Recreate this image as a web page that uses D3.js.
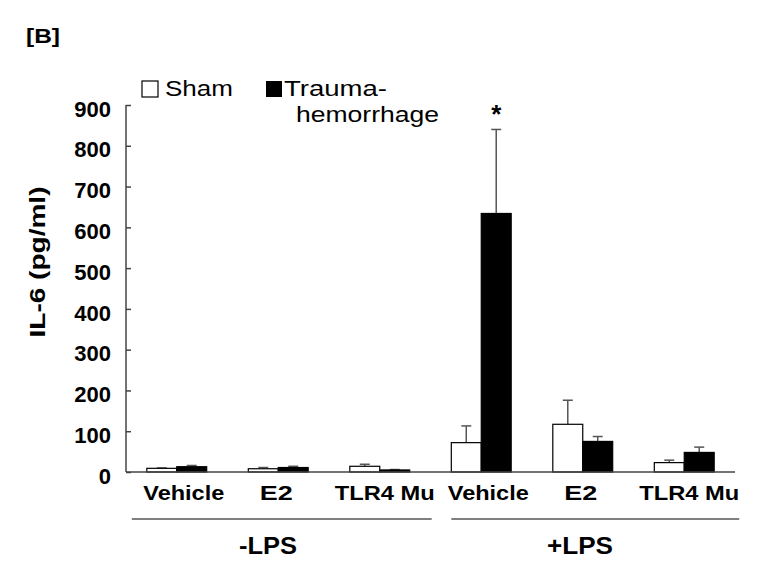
<!DOCTYPE html>
<html>
<head>
<meta charset="utf-8">
<script src="https://cdn.jsdelivr.net/npm/d3@7"></script>
<style>
  body { margin: 0; background: #fff; }
  text { font-family: "Liberation Sans", Arial, sans-serif; fill: #000; }
</style>
</head>
<body>
<div class="chart"></div>
<script>
// data
const treatments = ["Vehicle", "E2", "TLR4 Mu", "Vehicle", "E2", "TLR4 Mu"];
const lpsGroups = ["-LPS", "-LPS", "-LPS", "+LPS", "+LPS", "+LPS"];
const shamValues = [9, 8, 14, 72, 117, 23];
const shamErrors = [1, 3, 5, 41, 59, 6];
const traumaValues = [13, 11, 5, 634, 75, 48];
const traumaErrors = [3, 3, 1, 206, 12, 13];
const yTicks = [0, 100, 200, 300, 400, 500, 600, 700, 800, 900];
const seriesNames = ["Sham", "Trauma-hemorrhage"];

const width = 765, height = 586;
const svg = d3.select(".chart").append("svg")
  .attr("width", width).attr("height", height);
svg.append("rect").attr("width", width).attr("height", height).attr("fill", "#fff");

const keys = treatments.map((t, i) => t + "|" + lpsGroups[i]);
const data = keys.map((k, i) => ({
  key: k, treatment: treatments[i], lps: lpsGroups[i],
  bars: [
    {series: "Sham", value: shamValues[i], err: shamErrors[i]},
    {series: "Trauma-hemorrhage", value: traumaValues[i], err: traumaErrors[i]}
  ]
}));

let xScale = d3.scaleBand().domain(keys).range([126, 735]).paddingInner(0.41).paddingOuter(0.205);
let xSub = d3.scaleBand().domain(seriesNames).range([0, xScale.bandwidth()]);
let yScale = d3.scaleLinear().domain([0, 900]).range([472, 105]);

// y axis, ticks pointing inward
const yAxis = d3.axisRight(yScale).tickValues(yTicks).tickSize(5).tickFormat("");
const yG = svg.append("g").attr("class", "axis y-axis").attr("transform", "translate(126,0)").call(yAxis);
yG.select(".domain").attr("stroke", "#444").attr("stroke-width", 1.5).attr("d", "M0," + yScale(900) + "V" + yScale(0));
yG.selectAll(".tick line").attr("stroke", "#444").attr("stroke-width", 1.5);

svg.append("g").selectAll("text").data(yTicks).enter().append("text")
  .attr("x", 111).attr("y", d => yScale(d) + 4)
  .attr("dy", "0.35em")
  .attr("text-anchor", "end")
  .style("font-size", "22px").style("font-weight", "bold")
  .text(d => d);

// bars
const groups = svg.append("g").selectAll("g").data(data).enter().append("g")
  .attr("transform", d => `translate(${xScale(d.key)},0)`);

groups.selectAll("line.err").data(d => d.bars).enter().append("line")
  .attr("class", "err")
  .attr("x1", d => xSub(d.series) + xSub.bandwidth() / 2)
  .attr("x2", d => xSub(d.series) + xSub.bandwidth() / 2)
  .attr("y1", d => yScale(d.value))
  .attr("y2", d => yScale(d.value + d.err))
  .attr("stroke", "#555").attr("stroke-width", 1.5);

groups.selectAll("line.cap").data(d => d.bars).enter().append("line")
  .attr("class", "cap")
  .attr("x1", d => xSub(d.series) + xSub.bandwidth() / 2 - 5)
  .attr("x2", d => xSub(d.series) + xSub.bandwidth() / 2 + 5)
  .attr("y1", d => yScale(d.value + d.err))
  .attr("y2", d => yScale(d.value + d.err))
  .attr("stroke", "#555").attr("stroke-width", 1.5);

groups.selectAll("rect").data(d => d.bars).enter().append("rect")
  .attr("x", d => xSub(d.series))
  .attr("y", d => yScale(d.value))
  .attr("width", xSub.bandwidth())
  .attr("height", d => yScale(0) - yScale(d.value))
  .attr("fill", d => d.series == "Sham" ? "#fff" : "#000")
  .attr("stroke", "#000").attr("stroke-width", 1.2);

// x baseline
svg.append("line").attr("x1", 126).attr("x2", 735)
  .attr("y1", yScale(0)).attr("y2", yScale(0))
  .attr("stroke", "#444").attr("stroke-width", 1.5);

// category labels
const labelWidths = {"Vehicle": 81, "E2": 33, "TLR4 Mu": 100};
const labelShift = {"Vehicle": 7, "E2": -2, "TLR4 Mu": 5};
svg.append("g").selectAll("text").data(data).enter().append("text")
  .attr("x", d => xScale(d.key) + xScale.bandwidth() / 2 + labelShift[d.treatment])
  .attr("y", 500)
  .attr("text-anchor", "middle")
  .style("font-size", "21px").style("font-weight", "bold")
  .attr("textLength", d => labelWidths[d.treatment])
  .attr("lengthAdjust", "spacingAndGlyphs")
  .text(d => d.treatment);

// LPS group lines and labels
const lpsNames = ["-LPS", "+LPS"];
const lpsSpan = lpsNames.map(n => {
  const ks = data.filter(d => d.lps == n).map(d => d.key);
  return {name: n, x0: xScale(ks[0]), x1: xScale(ks[ks.length - 1]) + xScale.bandwidth()};
});
const lpsPad = {"-LPS": [15, 22], "+LPS": [0, 25]};
svg.append("g").selectAll("line").data(lpsSpan).enter().append("line")
  .attr("x1", d => d.x0 - lpsPad[d.name][0])
  .attr("x2", d => d.x1 + lpsPad[d.name][1])
  .attr("y1", 519).attr("y2", 519)
  .attr("stroke", "#000").attr("stroke-width", 1.2);
svg.append("g").selectAll("text").data(lpsSpan).enter().append("text")
  .attr("x", (d, i) => i == 0 ? 268 : 580)
  .attr("y", 554)
  .attr("text-anchor", "middle")
  .style("font-size", "23px").style("font-weight", "bold")
  .attr("textLength", d => d.name == "-LPS" ? 58 : 66)
  .attr("lengthAdjust", "spacingAndGlyphs")
  .text(d => d.name);

// y axis title
svg.append("text")
  .attr("transform", "translate(45,262) rotate(-90)")
  .attr("text-anchor", "middle")
  .style("font-size", "22px").style("font-weight", "bold")
  .attr("textLength", 151)
  .attr("lengthAdjust", "spacingAndGlyphs")
  .text("IL-6 (pg/ml)");

// panel label
svg.append("text").attr("x", 26).attr("y", 43)
  .style("font-size", "21px").style("font-weight", "bold")
  .attr("textLength", 34).attr("lengthAdjust", "spacingAndGlyphs")
  .text("[B]");

// legend
svg.append("rect").attr("x", 142).attr("y", 81).attr("width", 16).attr("height", 16)
  .attr("fill", "#fff").attr("stroke", "#000").attr("stroke-width", 1.2);
svg.append("text").attr("x", 165).attr("y", 96).style("font-size", "22px")
  .attr("textLength", 68).attr("lengthAdjust", "spacingAndGlyphs").text("Sham");
svg.append("rect").attr("x", 266).attr("y", 81).attr("width", 16).attr("height", 16)
  .attr("fill", "#000");
svg.append("text").attr("x", 284).attr("y", 96).style("font-size", "22px")
  .attr("textLength", 103).attr("lengthAdjust", "spacingAndGlyphs").text("Trauma-");
svg.append("text").attr("x", 296).attr("y", 122).style("font-size", "22px")
  .attr("textLength", 143).attr("lengthAdjust", "spacingAndGlyphs").text("hemorrhage");

// significance marker
svg.append("text")
  .attr("x", xScale(keys[3]) + xSub("Trauma-hemorrhage") + xSub.bandwidth() / 2)
  .attr("y", yScale(traumaValues[3] + traumaErrors[3]) - 6)
  .attr("text-anchor", "middle")
  .style("font-size", "26px").style("font-weight", "bold")
  .text("*");
</script>
</body>
</html>
